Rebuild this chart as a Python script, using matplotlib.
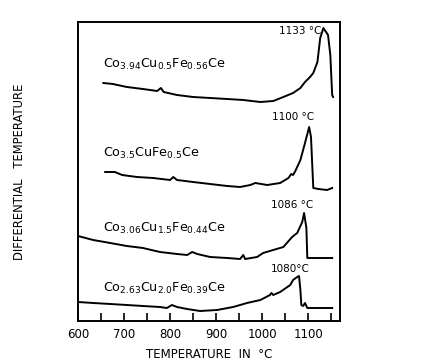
import matplotlib
matplotlib.use('Agg')
from matplotlib import pyplot as plt
import numpy as np

# curve 1: Co3.94Cu0.5Fe0.56Ce
t1 = [655, 676, 706, 741, 772, 780, 786, 815, 850, 887, 924, 959, 996, 1024, 1046,
      1067, 1083, 1093, 1104, 1111, 1120, 1126, 1133, 1143, 1148, 1152, 1154]
v1 = [238, 237, 234, 232, 230, 233, 229, 226, 224, 223, 222, 221, 219, 220, 224,
      228, 233, 239, 244, 248, 259, 283, 293, 286, 266, 226, 224]

# curve 2: Co3.5CuFe0.5Ce
t2 = [659, 680, 696, 728, 763, 800, 807, 815, 850, 887, 924, 952, 974, 985, 1011,
      1039, 1057, 1063, 1067, 1072, 1083, 1093, 1102, 1106, 1111, 1122, 1141, 1152]
v2 = [149, 149, 146, 144, 143, 141, 144, 141, 139, 137, 135, 134, 136, 138, 136,
      138, 143, 147, 146, 150, 161, 178, 194, 184, 133, 132, 131, 133]

# curve 3: Co3.06Cu1.5Fe0.44Ce
t3 = [600, 633, 670, 706, 741, 778, 815, 837, 848, 859, 887, 924, 952, 959, 963,
      989, 1002, 1024, 1046, 1065, 1076, 1087, 1091, 1096, 1098, 1110, 1152]
v3 = [85, 81, 78, 75, 73, 69, 67, 66, 69, 67, 64, 63, 62, 66, 62,
      64, 68, 71, 74, 84, 88, 99, 108, 93, 63, 63, 63]

# curve 4: Co2.63Cu2.0Fe0.39Ce
t4 = [600, 633, 670, 706, 741, 778, 793, 804, 815, 837, 865, 902, 937, 967, 996,
      1017, 1020, 1024, 1039, 1061, 1067, 1076, 1080, 1083, 1085, 1089, 1093, 1098, 1152]
v4 = [19, 18, 17, 16, 15, 14, 13, 16, 14, 12, 10, 11, 14, 18, 21,
      26, 28, 26, 29, 36, 41, 44, 45, 31, 16, 15, 18, 13, 13]

names = [r'$\mathrm{Co_{3.94}Cu_{0.5}Fe_{0.56}Ce}$',
         r'$\mathrm{Co_{3.5}CuFe_{0.5}Ce}$',
         r'$\mathrm{Co_{3.06}Cu_{1.5}Fe_{0.44}Ce}$',
         r'$\mathrm{Co_{2.63}Cu_{2.0}Fe_{0.39}Ce}$']
name_pos = [(655, 249), (655, 160), (655, 85), (655, 25)]
peaks = ['1133 °C', '1100 °C', '1086 °C', '1080°C']
peak_pos = [(1128, 290), (1112, 204), (1110, 116), (1103, 52)]

fig = plt.figure(figsize=(4.27, 3.62), dpi=100)
ax = fig.add_axes([78 / 427, 1 - 321 / 362, 262 / 427, 299 / 362])

for t, v in [(t1, v1), (t2, v2), (t3, v3), (t4, v4)]:
    ax.plot(t, v, color='black', lw=1.4, solid_joinstyle='round')

for name, (x, y) in zip(names, name_pos):
    ax.text(x, y, name, fontsize=9.2, ha='left', va='bottom')
for p, (x, y) in zip(peaks, peak_pos):
    ax.text(x, y, p, fontsize=7.5, ha='right', va='center')

ax.set_xlim(600, 1169)
ax.set_ylim(0, 299)
ax.set_xticks(np.arange(600, 1151, 50))
ax.set_xticklabels([str(x) if x % 100 == 0 else '' for x in range(600, 1151, 50)], fontsize=8.5)
ax.tick_params(axis='x', direction='in', length=6, width=1.2, pad=5)
ax.set_yticks([])
for s in ax.spines.values():
    s.set_linewidth(1.4)

ax.set_xlabel('TEMPERATURE  IN  °C', fontsize=8.5, labelpad=5)
fig.text(20 / 427, 1 - 172 / 362, 'DIFFERENTIAL   TEMPERATURE', rotation=90,
         fontsize=8.3, ha='center', va='center')

fig.savefig('out.png', dpi=100)
